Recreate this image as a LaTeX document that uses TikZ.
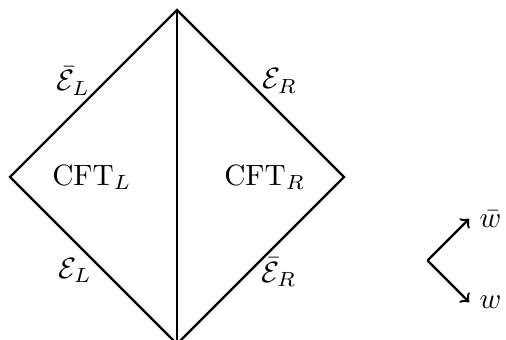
\documentclass[tikz,border=0pt]{standalone}
\usetikzlibrary{positioning}
\begin{document}
\begin{tikzpicture}
    \useasboundingbox (-0.12,-1.95) rectangle (5.94,2.12);
    \coordinate (L) at (0,0);
    \coordinate (T) at (2,2);
    \coordinate (R) at (4,0);
    \coordinate (B) at (2,-2);
    
    \draw[thick] (L) -- (T) -- (R) -- (B) -- cycle;
    \draw[thick] (T) -- (B);
    
    \node (cftL) at (0.98,0) {CFT$_L$};
    \node (cftR) at (3.05,0) {CFT$_R$};
    
    \node (EbL) at (0.76,1.15) {$\bar{\mathcal{E}}_L$};
    \node (ER)  at (3.23,1.15) {$\mathcal{E}_R$};
    \node (EL)  at (0.78,-1.12) {$\mathcal{E}_L$};
    \node (EbR) at (3.22,-1.14) {$\bar{\mathcal{E}}_R$};
    
    % light-cone directions
    \coordinate (O) at (5,-1);
    \coordinate (wbtip) at (5.5,-0.5);
    \coordinate (wtip) at (5.5,-1.5);
    \draw[thick,->] (O) -- (wbtip);
    \draw[thick,->] (O) -- (wtip);
    \node[right] (wb) at (wbtip) {$\bar w$};
    \node[right] (w) at (wtip) {$w$};
\end{tikzpicture}
\end{document}
